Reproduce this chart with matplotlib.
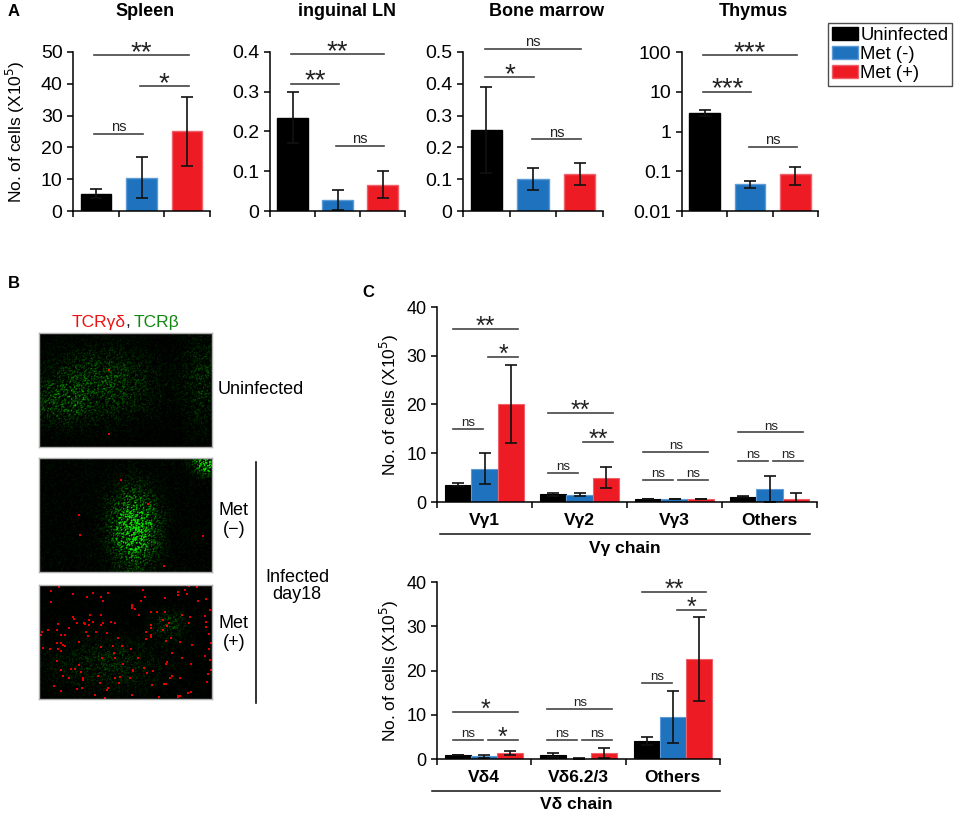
import numpy as np
import matplotlib
matplotlib.use("Agg")
from matplotlib import pyplot as plt
from matplotlib.lines import Line2D
from matplotlib.patches import Patch

plt.rcParams['font.family'] = ['Liberation Sans', 'DejaVu Sans']

W, H = 957, 813

groups = ["Uninfected", "Met (-)", "Met (+)"]
colors = ["#000000", "#1f72be", "#ed1c24"]
edges = ["#000000", "#5c9bd6", "#f0606a"]

# panel A: cell numbers per organ (x10^5)
organs = ["Spleen", "inguinal LN", "Bone marrow", "Thymus"]
spleen = [5.5, 10.5, 25.0]
spleen_err = [1.5, 6.5, 11.0]
iln = [0.235, 0.028, 0.066]
iln_err = [0.065, 0.026, 0.034]
bm = [0.255, 0.100, 0.116]
bm_err = [0.135, 0.035, 0.034]
thymus = [3.0, 0.048, 0.087]
thymus_err = [0.5, 0.010, 0.042]

spleen_sig = [(0, 2, 49, "**"), (1, 2, 39.3, "*"), (0, 1, 24.2, "ns")]
iln_sig = [(0, 2, 0.395, "**"), (0, 1, 0.32, "**"), (1, 2, 0.164, "ns")]
bm_sig = [(0, 2, 0.51, "ns"), (0, 1, 0.42, "*"), (1, 2, 0.225, "ns")]
thymus_sig = [(0, 2, 84, "***"), (0, 1, 10, "***"), (1, 2, 0.41, "ns")]

# panel C top: V gamma chain
vg_labels = ["Vγ1", "Vγ2", "Vγ3", "Others"]
vg_uninf = [3.5, 1.6, 0.6, 1.1]
vg_uninf_err = [0.3, 0.3, 0.05, 0.1]
vg_metneg = [6.8, 1.5, 0.6, 2.6]
vg_metneg_err = [3.2, 0.25, 0.05, 2.65]
vg_metpos = [20.2, 5.0, 0.6, 0.7]
vg_metpos_err = [8.0, 2.1, 0.05, 1.2]
vg_sig = [
    [(0, 2, 35.5, "**"), (1, 2, 29.7, "*"), (0, 1, 15.0, "ns")],
    [(0, 2, 18.2, "**"), (1, 2, 12.3, "**"), (0, 1, 5.9, "ns")],
    [(0, 2, 10.2, "ns"), (0, 1, 4.5, "ns"), (1, 2, 4.5, "ns")],
    [(0, 2, 14.3, "ns"), (0, 1, 8.4, "ns"), (1, 2, 8.4, "ns")],
]

# panel C bottom: V delta chain
vd_labels = ["Vδ4", "Vδ6.2/3", "Others"]
vd_uninf = [0.9, 0.9, 4.1]
vd_uninf_err = [0.1, 0.4, 0.9]
vd_metneg = [0.6, 0.1, 9.5]
vd_metneg_err = [0.3, 0.05, 5.9]
vd_metpos = [1.3, 1.3, 22.7]
vd_metpos_err = [0.45, 1.1, 9.5]
vd_sig = [
    [(0, 2, 10.6, "*"), (0, 1, 4.3, "ns"), (1, 2, 4.3, "*")],
    [(0, 2, 11.3, "ns"), (0, 1, 4.3, "ns"), (1, 2, 4.3, "ns")],
    [(0, 2, 37.7, "**"), (1, 2, 33.6, "*"), (0, 1, 17.2, "ns")],
]


def fx(px):
    return px / W


def fy(py):
    return 1 - py / H


def box(l, t, r, b):
    return [fx(l), fy(b), (r - l) / W, (b - t) / H]


def style_axes(ax, fs):
    for s in ["top", "right"]:
        ax.spines[s].set_visible(False)
    for s in ["left", "bottom"]:
        ax.spines[s].set_linewidth(1.1)
    ax.tick_params(axis="both", direction="out", length=4, width=1.1, labelsize=fs)


def sig_mark(ax, x1, x2, y, label, star_fs, ns_fs):
    ax.plot([x1, x2], [y, y], color="#444444", lw=1.2, clip_on=False)
    if label == "ns":
        ax.annotate(label, ((x1 + x2) / 2, y), xytext=(0, 2), textcoords="offset points",
                    ha="center", va="baseline", fontsize=ns_fs, color="#222222",
                    annotation_clip=False)
    else:
        ax.annotate(label, ((x1 + x2) / 2, y), xytext=(0, -3.5), textcoords="offset points",
                    ha="center", va="baseline", fontsize=star_fs, color="#222222",
                    annotation_clip=False)


fig = plt.figure(figsize=(W / 100, H / 100), dpi=100)

# ---------------- panel A ----------------
a_boxes = [(73, 52, 210, 211), (270, 52, 405, 211), (463, 52, 603, 211), (682, 52, 818, 211)]
a_vals = [spleen, iln, bm, thymus]
a_errs = [spleen_err, iln_err, bm_err, thymus_err]
a_sigs = [spleen_sig, iln_sig, bm_sig, thymus_sig]
a_tops = [50, 0.4, 0.5, 100]
a_steps = [10, 0.1, 0.1, None]
x = np.arange(1, 4)
for k in range(4):
    ax = fig.add_axes(box(*a_boxes[k]))
    style_axes(ax, 14)
    ax.bar(x, a_vals[k], width=0.67, color=colors, edgecolor=edges, linewidth=1)
    ax.errorbar(x, a_vals[k], yerr=a_errs[k], fmt="none", ecolor="#111111",
                elinewidth=1.2, capsize=4.5, capthick=1.2)
    ax.set_xlim(0.5, 3.5)
    ax.set_xticks([0.5, 1.5, 2.5, 3.5])
    ax.set_xticklabels([])
    if k == 3:
        ax.set_yscale("log")
        ax.set_ylim(0.01, 100)
        ax.set_yticks([0.01, 0.1, 1, 10, 100])
        ax.set_yticklabels(["0.01", "0.1", "1", "10", "100"])
        ax.minorticks_off()
    else:
        ax.set_ylim(0, a_tops[k])
        ticks = np.arange(0, a_tops[k] + a_steps[k] / 2, a_steps[k])
        ax.set_yticks(ticks)
        ax.set_yticklabels([f"{t:g}" for t in ticks])
    for i, j, y, lab in a_sigs[k]:
        sig_mark(ax, x[i] - 0.03, x[j] + 0.03, y, lab, 20, 10.5)
    if k == 0:
        ax.set_ylabel("No. of cells (X10$^5$)", fontsize=12.5, labelpad=10)
    fig.text(fx([145, 347, 547, 753][k]), fy(11), organs[k], fontsize=13,
             fontweight="bold", ha="center", va="center")

handles = [Patch(facecolor=c, edgecolor=e) for c, e in zip(colors, edges)]
fig.legend(handles, groups, loc="upper left", bbox_to_anchor=(fx(828), fy(23)),
           fontsize=13.3, frameon=True, fancybox=False, edgecolor="#222222",
           handlelength=1.4, handleheight=0.75, handletextpad=0.15, labelspacing=0.1,
           borderpad=0.2, borderaxespad=0)

fig.text(fx(8), fy(12), "A", fontsize=12, fontweight="bold", ha="left", va="center")
fig.text(fx(8), fy(283), "B", fontsize=12, fontweight="bold", ha="left", va="center")
fig.text(fx(362), fy(292), "C", fontsize=12, fontweight="bold", ha="left", va="center")

# ---------------- panel B (micrographs, stand-in textures) ----------------
def micrograph(green_blobs, n_red, seed, gain, h=114, w=173):
    rng = np.random.default_rng(seed)
    yy, xx = np.mgrid[0:1:h * 1j, 0:1:w * 1j]
    env = np.full((h, w), 0.05)
    for cx, cy, sx, sy, a in green_blobs:
        env += a * np.exp(-((xx - cx) ** 2 / (2 * sx ** 2) + (yy - cy) ** 2 / (2 * sy ** 2)))
    speck = rng.random((h, w)) ** 4
    speck = (2 * speck + np.roll(speck, 1, 0) + np.roll(speck, 1, 1)) / 4
    g = np.clip(env * speck * gain, 0, 1)
    img = np.zeros((h, w, 3))
    img[..., 1] = g * 0.85
    img[..., 0] = g * 0.05
    ys = rng.integers(0, h - 1, n_red)
    xs = rng.integers(0, w - 1, n_red)
    for yv, xv in zip(ys, xs):
        img[yv:yv + 2, xv:xv + 2, 0] = 0.9
        img[yv:yv + 2, xv:xv + 2, 1] *= 0.2
    return img


img_specs = [
    ([(0.35, 0.45, 0.2, 0.2, 0.8), (0.12, 0.62, 0.1, 0.12, 0.6), (0.95, 0.4, 0.08, 0.3, 0.45)], 2, 1, 1.1),
    ([(0.55, 0.62, 0.08, 0.2, 1.3), (0.97, 0.04, 0.05, 0.06, 1.3)], 6, 2, 2.2),
    ([(0.75, 0.35, 0.06, 0.08, 0.6), (0.4, 0.7, 0.22, 0.15, 0.4)], 150, 3, 1.2),
]
img_boxes = [(39, 333, 212, 447), (39, 458, 212, 572), (39, 585, 212, 699)]
for (blobs, nred, seed, gain), bx in zip(img_specs, img_boxes):
    iax = fig.add_axes(box(*bx))
    iax.imshow(micrograph(blobs, nred, seed, gain), aspect="auto", interpolation="bilinear")
    iax.set_xticks([])
    iax.set_yticks([])
    for s in iax.spines.values():
        s.set_color("#b0b0b0")
        s.set_linewidth(1)

fig.text(fx(126), fy(322), "TCRγδ", color="#ee1111", fontsize=12.5, ha="right", va="center")
fig.text(fx(125.5), fy(322), ",", color="#111111", fontsize=12.5, ha="left", va="center")
fig.text(fx(134), fy(322), "TCRβ", color="#118811", fontsize=12.5, ha="left", va="center")
fig.text(fx(218), fy(390), "Uninfected", fontsize=13, ha="left", va="center")
fig.text(fx(234), fy(520), "Met\n(\u2212)", fontsize=13, ha="center", va="center", linespacing=1.1)
fig.text(fx(234), fy(633), "Met\n(+)", fontsize=13, ha="center", va="center", linespacing=1.1)
fig.text(fx(297), fy(586), "Infected\nday18", fontsize=13, ha="center", va="center", linespacing=1.0)
fig.add_artist(Line2D([fx(256), fx(256)], [fy(462), fy(703)], color="#111111", lw=1.2))

# ---------------- panel C ----------------
bw = 0.274


def chain_panel(bx, labels, series, errs, sigs, chain, line_y, line_x, chain_y):
    ax = fig.add_axes(box(*bx))
    style_axes(ax, 13)
    n = len(labels)
    centers = np.arange(n) + 0.5
    for g in range(3):
        ax.bar(centers + (g - 1) * bw, series[g], width=bw, color=colors[g],
               edgecolor=edges[g], linewidth=0.8)
        ax.errorbar(centers + (g - 1) * bw, series[g], yerr=errs[g], fmt="none",
                    ecolor="#111111", elinewidth=1.2, capsize=4.5, capthick=1.2)
    ax.set_xlim(0, n)
    ax.set_ylim(0, 40)
    ax.set_yticks([0, 10, 20, 30, 40])
    ax.set_xticks(np.arange(n + 1))
    ax.set_xticklabels([])
    ax.set_xticks(centers, minor=True)
    ax.set_xticklabels(labels, minor=True, fontsize=12.5, fontweight="bold")
    ax.tick_params(axis="x", which="minor", length=0, pad=8)
    ax.set_ylabel("No. of cells (X10$^5$)", fontsize=12.5, labelpad=4)
    for c, grp in zip(centers, sigs):
        for i, j, y, lab in grp:
            x1 = c + (i - 1) * bw + (-0.2 if i == 0 else 0.15) * bw
            x2 = c + (j - 1) * bw + (-0.05 if j == 1 else 0.3) * bw
            sig_mark(ax, x1, x2, y, lab, 18, 9.5)
    fig.add_artist(Line2D([fx(line_x[0]), fx(line_x[1])], [fy(line_y), fy(line_y)],
                          color="#111111", lw=1.1))
    fig.text(fx((line_x[0] + line_x[1]) / 2), fy(chain_y), chain, fontsize=12.5,
             fontweight="bold", ha="center", va="center")
    return ax


chain_panel((437, 307, 817, 502), vg_labels, [vg_uninf, vg_metneg, vg_metpos],
            [vg_uninf_err, vg_metneg_err, vg_metpos_err], vg_sig, "Vγ chain",
            534, (440, 810), 549)
chain_panel((437, 582, 720, 759), vd_labels, [vd_uninf, vd_metneg, vd_metpos],
            [vd_uninf_err, vd_metneg_err, vd_metpos_err], vd_sig, "Vδ chain",
            791, (432, 720), 804)

fig.savefig("out.png", dpi=100)
